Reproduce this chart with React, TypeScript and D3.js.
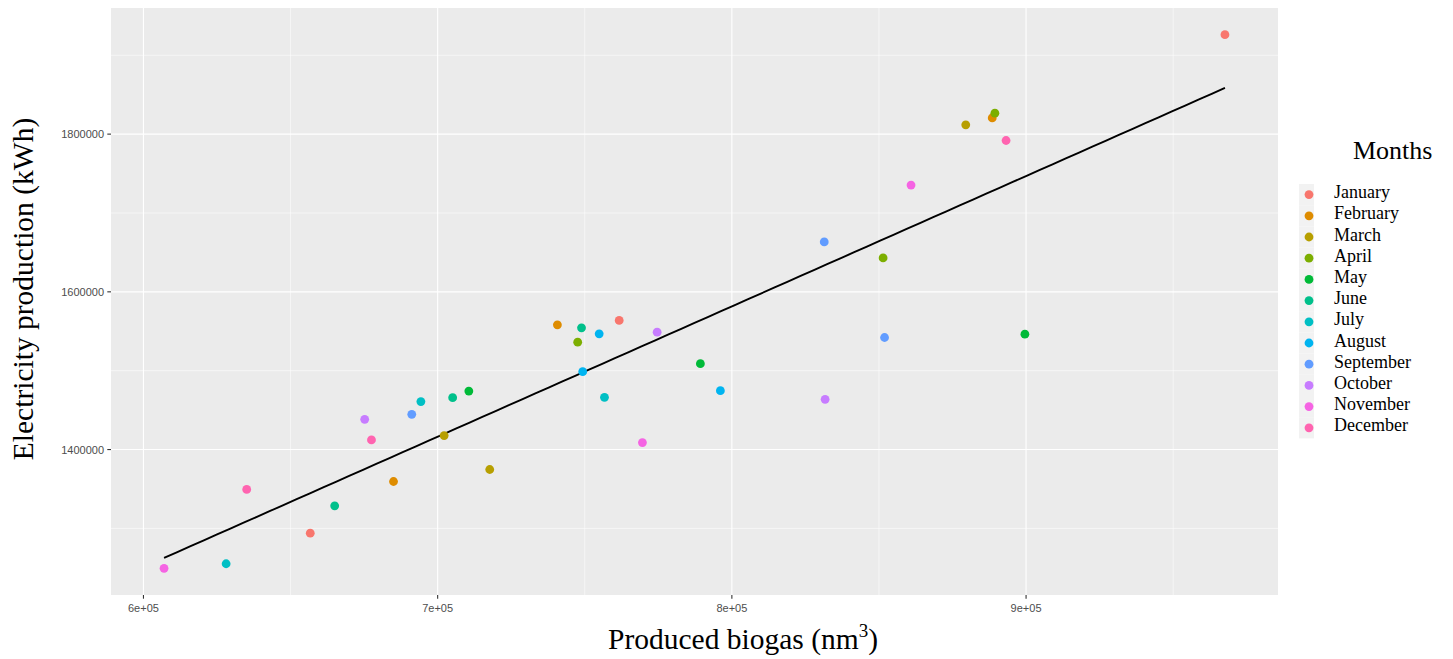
import React, { useEffect, useRef } from "react";
import * as d3 from "d3";

// month names, in legend order
const months = [
  "January", "February", "March", "April", "May", "June",
  "July", "August", "September", "October", "November", "December",
];
// ggplot default hue palette for 12 levels
const monthColors = [
  "#F8766D", "#DE8C00", "#B79F00", "#7CAE00", "#00BA38", "#00C08B",
  "#00BFC4", "#00B4F0", "#619CFF", "#C77CFF", "#F564E3", "#FF64B0",
];

// three years of readings per month
const biogas: number[][] = [
  [967600, 761700, 656700],
  [740700, 888500, 685000],
  [879500, 702200, 717700],
  [889400, 851400, 747600],
  [899600, 789300, 710600],
  [748900, 705100, 665000],
  [756700, 694300, 628100],
  [754900, 749300, 796100],
  [831400, 851900, 691200],
  [774600, 831700, 675200],
  [860900, 769600, 607000],
  [893200, 677500, 635100],
];
const electricity: number[][] = [
  [1926100, 1563700, 1294000],
  [1558200, 1820600, 1359500],
  [1811800, 1417700, 1374700],
  [1826600, 1643000, 1536200],
  [1546300, 1508900, 1474200],
  [1554400, 1465800, 1328600],
  [1466200, 1460800, 1255200],
  [1546800, 1498700, 1474700],
  [1663300, 1542100, 1444700],
  [1548900, 1463700, 1438400],
  [1735400, 1408900, 1249400],
  [1791900, 1412200, 1349400],
];

const xTicks = [600000, 700000, 800000, 900000];
const xTickLabels = ["6e+05", "7e+05", "8e+05", "9e+05"];
const xMinor = [650000, 750000, 850000, 950000];
const yTicks = [1400000, 1600000, 1800000];
const yMinor = [1300000, 1500000, 1700000, 1900000];

export default function App() {
  const ref = useRef<SVGSVGElement>(null);

  useEffect(() => {
    const svg = d3.select(ref.current);
    svg.selectAll("*").remove();

    const points: { x: number; y: number; m: number }[] = [];
    months.forEach((_, i) => {
      biogas[i].forEach((x, j) => points.push({ x, y: electricity[i][j], m: i }));
    });

    // panel box
    const left = 111, right = 1278, top = 8, bottom = 595;

    // ggplot style 5% expansion
    const xe = d3.extent(points, d => d.x) as [number, number];
    const ye = d3.extent(points, d => d.y) as [number, number];
    const xPad = (xe[1] - xe[0]) * 0.05;
    const yPad = (ye[1] - ye[0]) * 0.05;
    const x = d3.scaleLinear().domain([xe[0] - xPad, xe[1] + xPad]).range([left, right]);
    const y = d3.scaleLinear().domain([ye[0] - yPad, ye[1] + yPad]).range([bottom, top]);

    svg.append("rect")
      .attr("x", left).attr("y", top)
      .attr("width", right - left).attr("height", bottom - top)
      .attr("fill", "#EBEBEB");

    const grid = svg.append("g");
    // minor lines
    xMinor.forEach(v => grid.append("line")
      .attr("x1", x(v)).attr("x2", x(v)).attr("y1", top).attr("y2", bottom)
      .attr("stroke", "white").attr("stroke-width", 0.55));
    yMinor.forEach(v => grid.append("line")
      .attr("x1", left).attr("x2", right).attr("y1", y(v)).attr("y2", y(v))
      .attr("stroke", "white").attr("stroke-width", 0.55));
    // major lines
    xTicks.forEach(v => grid.append("line")
      .attr("x1", x(v)).attr("x2", x(v)).attr("y1", top).attr("y2", bottom)
      .attr("stroke", "white").attr("stroke-width", 1.1));
    yTicks.forEach(v => grid.append("line")
      .attr("x1", left).attr("x2", right).attr("y1", y(v)).attr("y2", y(v))
      .attr("stroke", "white").attr("stroke-width", 1.1));

    // least squares fit line
    const mx = d3.mean(points, d => d.x) as number;
    const my = d3.mean(points, d => d.y) as number;
    const sxy = d3.sum(points, d => (d.x - mx) * (d.y - my));
    const sxx = d3.sum(points, d => (d.x - mx) * (d.x - mx));
    const slope = sxy / sxx;
    const icpt = my - slope * mx;
    const fitX = d3.range(0, 81).map(k => xe[0] + (xe[1] - xe[0]) * k / 80);
    svg.append("path")
      .datum(fitX)
      .attr("fill", "none")
      .attr("stroke", "black")
      .attr("stroke-width", 1.9)
      .attr("d", d3.line<number>().x(d => x(d)).y(d => y(icpt + slope * d)));

    svg.append("g").selectAll("circle")
      .data(points)
      .join("circle")
      .attr("cx", d => x(d.x))
      .attr("cy", d => y(d.y))
      .attr("r", 4.4)
      .attr("fill", d => monthColors[d.m]);

    // axes
    const ax = svg.append("g").attr("font-family", "Liberation Sans, Arial, sans-serif")
      .attr("font-size", 11).attr("fill", "#4D4D4D");
    xTicks.forEach((v, i) => {
      ax.append("line").attr("x1", x(v)).attr("x2", x(v)).attr("y1", bottom).attr("y2", bottom + 3.7)
        .attr("stroke", "#333333").attr("stroke-width", 1.1);
      ax.append("text").attr("x", x(v)).attr("y", bottom + 17).attr("text-anchor", "middle")
        .text(xTickLabels[i]);
    });
    yTicks.forEach(v => {
      ax.append("line").attr("x1", left - 3.7).attr("x2", left).attr("y1", y(v)).attr("y2", y(v))
        .attr("stroke", "#333333").attr("stroke-width", 1.1);
      ax.append("text").attr("x", left - 7).attr("y", y(v) + 4).attr("text-anchor", "end")
        .text(String(v));
    });

    const serif = "Liberation Serif, Times New Roman, serif";
    const xt = svg.append("text")
      .attr("x", 608).attr("y", 649)
      .attr("text-anchor", "start")
      .attr("font-family", serif).attr("font-size", 29.5).attr("fill", "black");
    xt.append("tspan").text("Produced biogas (nm");
    xt.append("tspan").attr("font-size", 19).attr("dy", -12).text("3");
    xt.append("tspan").attr("dy", 12).text(")");

    svg.append("text")
      .attr("transform", `translate(33,289) rotate(-90)`)
      .attr("text-anchor", "middle")
      .attr("font-family", serif).attr("font-size", 29.5).attr("fill", "black")
      .text("Electricity production (kWh)");

    // legend
    const lg = svg.append("g");
    lg.append("text").attr("x", 1353).attr("y", 159)
      .attr("font-family", serif).attr("font-size", 26).attr("fill", "black")
      .text("Months");
    const keyTop = 184, keyH = 21.2;
    months.forEach((m, i) => {
      const ky = keyTop + i * keyH;
      lg.append("rect").attr("x", 1299).attr("y", ky).attr("width", 15).attr("height", keyH)
        .attr("fill", "#F2F2F2");
      lg.append("circle").attr("cx", 1309).attr("cy", ky + keyH / 2).attr("r", 4.4)
        .attr("fill", monthColors[i]);
      lg.append("text").attr("x", 1334).attr("y", ky + keyH / 2 + 3.5)
        .attr("font-family", serif).attr("font-size", 18).attr("fill", "black")
        .text(m);
    });
  }, []);

  return (
    <svg ref={ref} width={1453} height={659}
      style={{ position: "absolute", left: 0, top: 0, background: "white" }} />
  );
}
